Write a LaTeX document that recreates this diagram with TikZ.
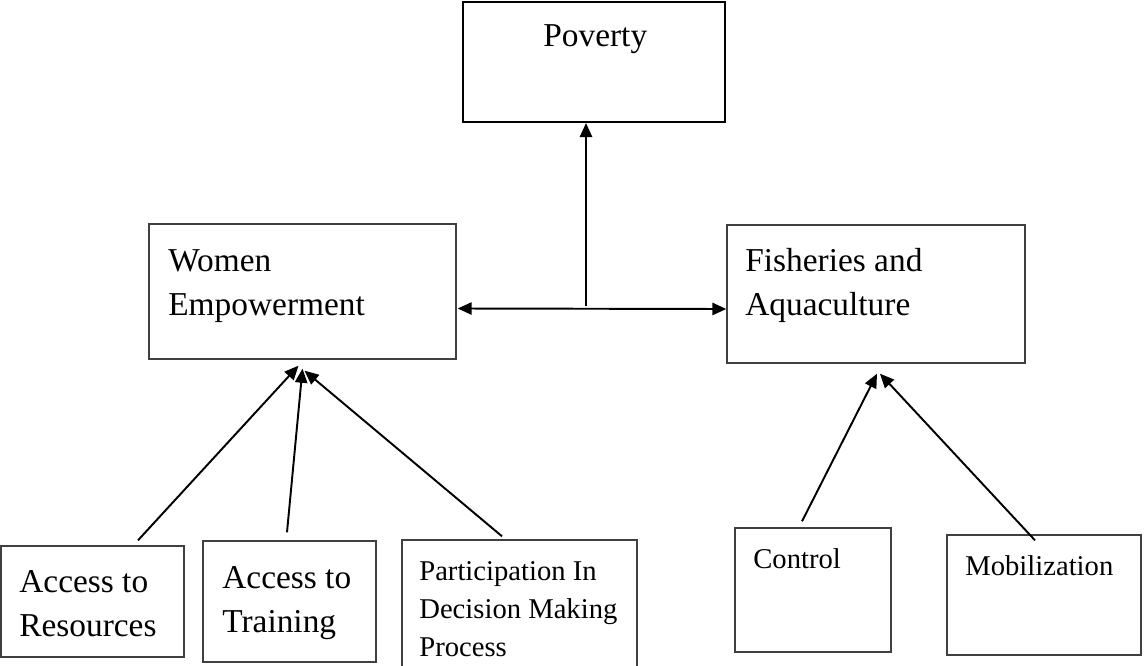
\documentclass[tikz,border=0pt]{standalone}
\usepackage{fontspec}
\setmainfont{Liberation Serif}
\usepackage{tikz}
\usetikzlibrary{arrows.meta,calc}

\tikzset{
  box/.style={rectangle, draw=black!75, line width=0.8pt, inner sep=0pt},
  big/.style={font=\fontsize{19}{25}\selectfont, anchor=base west, align=left, inner sep=0pt},
  small/.style={font=\fontsize{16.3}{21.6}\selectfont, anchor=base west, align=left, inner sep=0pt},
  link/.style={line width=1.1pt, -{Triangle[length=8pt,width=7pt]}}
}

\begin{document}
\begin{tikzpicture}[x=0.02cm, y=-0.02cm]
\useasboundingbox (0,0) rectangle (1144,666);

% top box
\node[box, draw=black, line width=1.2pt, minimum width=5.24cm, minimum height=2.4cm] (pov) at (594,62) {};
\node[big] (povt) at (543,47) {Poverty};

% middle boxes (text nodes sit on their last baseline)
\node[box, minimum width=6.14cm, minimum height=2.7cm] (wemp) at (302.5,291.5) {};
\node[big] (wempt) at (168,315) {Women\\Empowerment};
\node[box, minimum width=5.96cm, minimum height=2.76cm] (fish) at (876,294) {};
\node[big] (fisht) at (745,315) {Fisheries and\\Aquaculture};

% bottom boxes
\node[box, minimum width=3.66cm, minimum height=2.22cm] (res) at (92.5,601.5) {};
\node[big] (rest) at (19,636) {Access to\\Resources};
\node[box, minimum width=3.46cm, minimum height=2.42cm] (trn) at (289.5,601.5) {};
\node[big] (trnt) at (222,632) {Access to\\Training};
\node[box, minimum width=4.7cm, minimum height=2.56cm] (dec) at (519.5,604) {};
\node[small] (dect) at (419,656) {Participation In\\Decision Making\\Process};
\node[box, minimum width=3.12cm, minimum height=2.48cm] (ctl) at (813,590) {};
\node[small] (ctlt) at (753,568) {Control};
\node[box, minimum width=3.88cm, minimum height=2.4cm] (mob) at (1044,595) {};
\node[small] (mobt) at (965,575) {Mobilization};

% connectors
\coordinate (mid) at (586,306);
\draw[link] (mid) -- (mid |- pov.south);
\draw[link, {Triangle[length=8pt,width=7pt]}-{Triangle[length=8pt,width=7pt]}]
  ($(wemp.east)+(1,17)$) -- ($(fish.west)+(0,15)$);

\draw[link] ($(res.north)+(45.5,-5)$) -- ($(wemp.south)+(-4,6)$);
\draw[link] ($(trn.north)+(-2.5,-8)$) -- ($(wemp.south)+(0,9)$);
\draw[link] ($(dec.north)+(-17.5,-3)$) -- ($(wemp.south)+(2,11)$);
\draw[link] ($(ctl.north)+(-11,-6)$) -- ($(fish.south)+(1,10)$);
\draw[link] ($(mob.north)+(-9,6)$) -- ($(fish.south)+(4,10)$);
\end{tikzpicture}
\end{document}
